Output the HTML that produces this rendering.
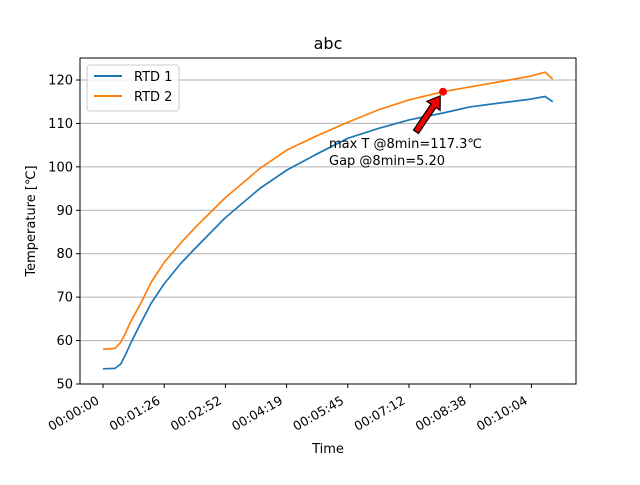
<!DOCTYPE html>
<html><head><meta charset="utf-8"><style>
html,body{margin:0;padding:0;background:#fff;}
svg text{font-family:"DejaVu Sans","Liberation Sans",sans-serif;fill:#000;}
</style></head><body>
<svg id="chart" width="640" height="480" xmlns="http://www.w3.org/2000/svg">
<rect x="0" y="0" width="640" height="480" fill="#fff"/>
<text x="328" y="49" font-size="16" text-anchor="middle">abc</text>
<g id="grid"></g>
<g id="series"></g>
<rect x="80" y="58" width="496" height="326" fill="none" stroke="#000" stroke-width="1"/>
<g id="yticks"></g>
<g id="xticks"></g>
<text transform="translate(35,221) rotate(-90)" font-size="13" text-anchor="middle">Temperature [℃]</text>
<text x="328" y="453" font-size="13" text-anchor="middle">Time</text>
<g>
<rect x="87" y="65" width="92" height="46" rx="3" fill="#fff" fill-opacity="0.8" stroke="#ccc"/>
<line x1="94" y1="76" x2="122" y2="76" stroke="#1f77b4" stroke-width="2"/>
<text x="134" y="81" font-size="13">RTD 1</text>
<line x1="94" y1="96" x2="122" y2="96" stroke="#ff7f0e" stroke-width="2"/>
<text x="134" y="101" font-size="13">RTD 2</text>
</g>
<g id="annot"></g>
</svg>
<script>
const times = [0,17,25,32,38,52,68,86,110,130,172,222,260,300,346,390,432,480,518,560,604,624,635];
const rtd1 = [53.5,53.6,54.6,56.8,59.0,63.6,68.6,73.0,77.8,81.2,88.2,95.1,99.3,102.8,106.6,108.9,110.8,112.4,113.8,114.7,115.6,116.2,115.0];
const rtd2 = [58.0,58.2,59.6,61.8,64.0,68.2,73.4,77.9,82.5,86.0,92.8,99.7,103.9,107.0,110.3,113.2,115.4,117.3,118.4,119.6,120.9,121.8,120.2];
const yTicks = [50,60,70,80,90,100,110,120];
const xTickSecs = [0,86.4,172.8,259.2,345.6,432,518.4,604.8];
const xTickLabels = ["00:00:00","00:01:26","00:02:52","00:04:19","00:05:45","00:07:12","00:08:38","00:10:04"];
const annotTime = 480, annotVal = 117.3;

const NS="http://www.w3.org/2000/svg";
const X = t => 103 + t*0.70833;
const Y = v => 384 - (v-50)*4.343;
function mk(tag, attrs, parent){const e=document.createElementNS(NS,tag);for(const k in attrs)e.setAttribute(k,attrs[k]);parent.appendChild(e);return e;}
const grid=document.getElementById('grid'), yt=document.getElementById('yticks'), xt=document.getElementById('xticks'), ser=document.getElementById('series'), an=document.getElementById('annot');
yTicks.forEach(v=>{
  const g=mk('line',{x1:80,x2:576,y1:Y(v),y2:Y(v),stroke:'#b0b0b0','stroke-width':1},grid);
  
  
  mk('line',{x1:76,x2:80,y1:Y(v),y2:Y(v),stroke:'#000'},yt);
  const t=mk('text',{x:73,y:Y(v)+4.5,'font-size':13,'text-anchor':'end'},yt);
  t.textContent=v;
  
  
});
xTickSecs.forEach((s,i)=>{
  const x=X(s);
  mk('line',{x1:x,x2:x,y1:384,y2:388,stroke:'#000'},xt);
  const t=mk('text',{transform:`translate(${x-3},${403}) rotate(-30)`,'font-size':12.5,'text-anchor':'end'},xt);
  t.textContent=xTickLabels[i];
  
  
});
function line(vals,color,name){
  const p=mk('polyline',{points:times.map((t,i)=>X(t)+','+Y(vals[i])).join(' '),fill:'none',stroke:color,'stroke-width':1.7,'stroke-linejoin':'round'},ser);
  
  
}
line(rtd1,'#1f77b4','rtd1-line');
line(rtd2,'#ff7f0e','rtd2-line');
const px=X(annotTime), py=Y(annotVal);
const tx=px-27, ty=py+40;
const ang=Math.atan2(py-ty,px-tx), len=Math.hypot(px-tx,py-ty)-5;
const arr=mk('polygon',{points:'0,-3 '+(len-12)+',-3 '+(len-12)+',-8 '+len+',0 '+(len-12)+',8 '+(len-12)+',3 0,3',fill:'#e00',stroke:'#000','stroke-width':1.2,transform:`translate(${tx},${ty}) rotate(${ang*180/Math.PI})`},an);


const dot=mk('circle',{cx:px,cy:py,r:4,fill:'#f00'},an);


const t1=mk('text',{x:329,y:148,'font-size':13},an);
t1.textContent='max T @8min=117.3℃';


const t2=mk('text',{x:329,y:165,'font-size':13},an);
t2.textContent='Gap @8min=5.20';


</script>
</body></html>
